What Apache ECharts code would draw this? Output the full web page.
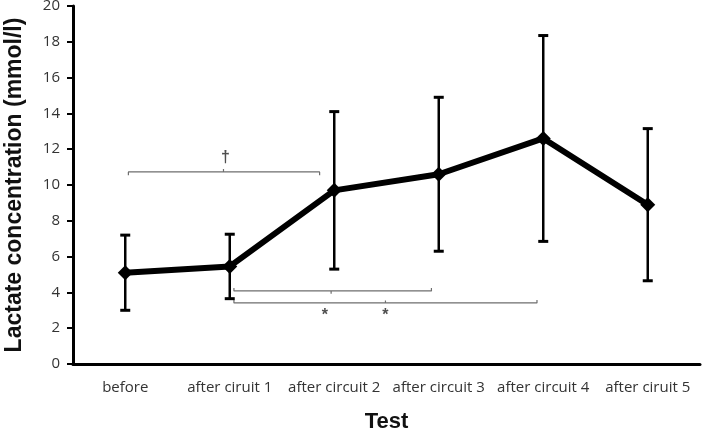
<!DOCTYPE html>
<html>
<head>
<meta charset="utf-8">
<script src="https://cdn.jsdelivr.net/npm/echarts@6/dist/echarts.min.js"></script>
<style>
  html, body { margin: 0; padding: 0; background: #fff; }
  #chart-container { width: 702px; height: 434px; }
</style>
</head>
<body>
<div id="chart-container"></div>
<script>
// categories and values (mean +/- sd, mmol/l)
const categories = ['before', 'after ciruit 1', 'after circuit 2', 'after circuit 3', 'after circuit 4', 'after ciruit 5'];
const meanValues = [5.1, 5.45, 9.7, 10.6, 12.6, 8.9];
const sdValues = [2.1, 1.8, 4.4, 4.3, 5.75, 4.25];
const yTicks = [0, 2, 4, 6, 8, 10, 12, 14, 16, 18, 20];

// significance brackets in data units (x = category index)
const bracketDagger = [[0.03, 10.55], [0.03, 10.73], [0.94, 10.73], [0.94, 10.9], [0.94, 10.73], [1.86, 10.73], [1.86, 10.55]];
const bracketTwo = [[1.04, 4.25], [1.04, 4.08], [1.97, 4.08], [1.97, 3.92], [1.97, 4.08], [2.93, 4.08], [2.93, 4.25]];
const bracketThree = [[1.04, 3.58], [1.04, 3.41], [2.49, 3.41], [2.49, 3.55], [2.49, 3.41], [3.94, 3.41], [3.94, 3.58]];
const markTexts = [
  { text: '\u2020', x: 0.96, y: 11.55 },
  { text: '*', x: 1.91, y: 2.7 },
  { text: '*', x: 2.49, y: 2.7 }
];

const chart = echarts.init(document.getElementById('chart-container'), null, { renderer: 'canvas' });

const errorData = meanValues.map((m, i) => [i, m - sdValues[i], m + sdValues[i]]);

function bracketSeries(points) {
  return {
    type: 'line',
    xAxisIndex: 1,
    data: points,
    symbol: 'none',
    silent: true,
    animation: false,
    z: 1,
    lineStyle: { color: '#6e6e6e', width: 1.2 }
  };
}

const option = {
  animation: false,
  grid: { left: 73, right: 2, top: 6, bottom: 70, containLabel: false, outerBoundsMode: 'none' },
  xAxis: [
    {
      type: 'category',
      data: categories,
      name: 'Test',
      nameLocation: 'middle',
      nameGap: 47,
      nameTextStyle: { fontFamily: 'Liberation Sans', fontWeight: 'bold', fontSize: 22, color: '#111' },
      axisLine: { lineStyle: { color: '#000', width: 3 } },
      axisTick: { show: false },
      axisLabel: { fontFamily: 'Open Sans', fontSize: 15, color: '#333', margin: 16, interval: 0 }
    },
    {
      type: 'value',
      min: -0.5,
      max: 5.5,
      show: false
    }
  ],
  yAxis: {
    type: 'value',
    min: 0,
    max: 20,
    interval: 2,
    name: 'Lactate concentration (mmol/l)',
    nameLocation: 'middle',
    nameGap: 47,
    nameTextStyle: { fontFamily: 'Liberation Sans', fontWeight: 'bold', fontSize: 23, color: '#111' },
    axisLine: { show: true, onZero: false, lineStyle: { color: '#000', width: 3 } },
    axisTick: { show: true, inside: false, length: 6, lineStyle: { color: '#000', width: 2 } },
    axisLabel: {
      fontFamily: 'Open Sans', fontSize: 15, color: '#333', margin: 13,
      formatter: v => (yTicks.indexOf(v) >= 0 ? String(v) : '')
    },
    splitLine: { show: false }
  },
  series: [
    bracketSeries(bracketDagger),
    bracketSeries(bracketTwo),
    bracketSeries(bracketThree),
    {
      type: 'custom',
      xAxisIndex: 0,
      data: errorData,
      z: 2,
      renderItem: function (params, api) {
        const x = api.value(0);
        const lo = api.coord([x, api.value(1)]);
        const hi = api.coord([x, api.value(2)]);
        const half = 5;
        return {
          type: 'group',
          children: [
            { type: 'line', shape: { x1: hi[0], y1: hi[1], x2: lo[0], y2: lo[1] }, style: { stroke: '#000', lineWidth: 2.5 } },
            { type: 'line', shape: { x1: hi[0] - half, y1: hi[1], x2: hi[0] + half, y2: hi[1] }, style: { stroke: '#000', lineWidth: 3 } },
            { type: 'line', shape: { x1: lo[0] - half, y1: lo[1], x2: lo[0] + half, y2: lo[1] }, style: { stroke: '#000', lineWidth: 3 } }
          ]
        };
      }
    },
    {
      type: 'line',
      data: meanValues,
      z: 3,
      symbol: 'diamond',
      symbolSize: 15,
      itemStyle: { color: '#000' },
      lineStyle: { color: '#000', width: 6 }
    },
    {
      type: 'scatter',
      xAxisIndex: 1,
      symbolSize: 0,
      silent: true,
      data: markTexts.map(t => ({ value: [t.x, t.y], name: t.text })),
      label: {
        show: true,
        position: 'inside',
        formatter: p => p.name,
        fontFamily: 'Liberation Sans',
        fontSize: 16,
        fontWeight: 'bold',
        color: '#222'
      }
    }
  ]
};

chart.setOption(option);
window.addEventListener('resize', chart.resize);
</script>
</body>
</html>
